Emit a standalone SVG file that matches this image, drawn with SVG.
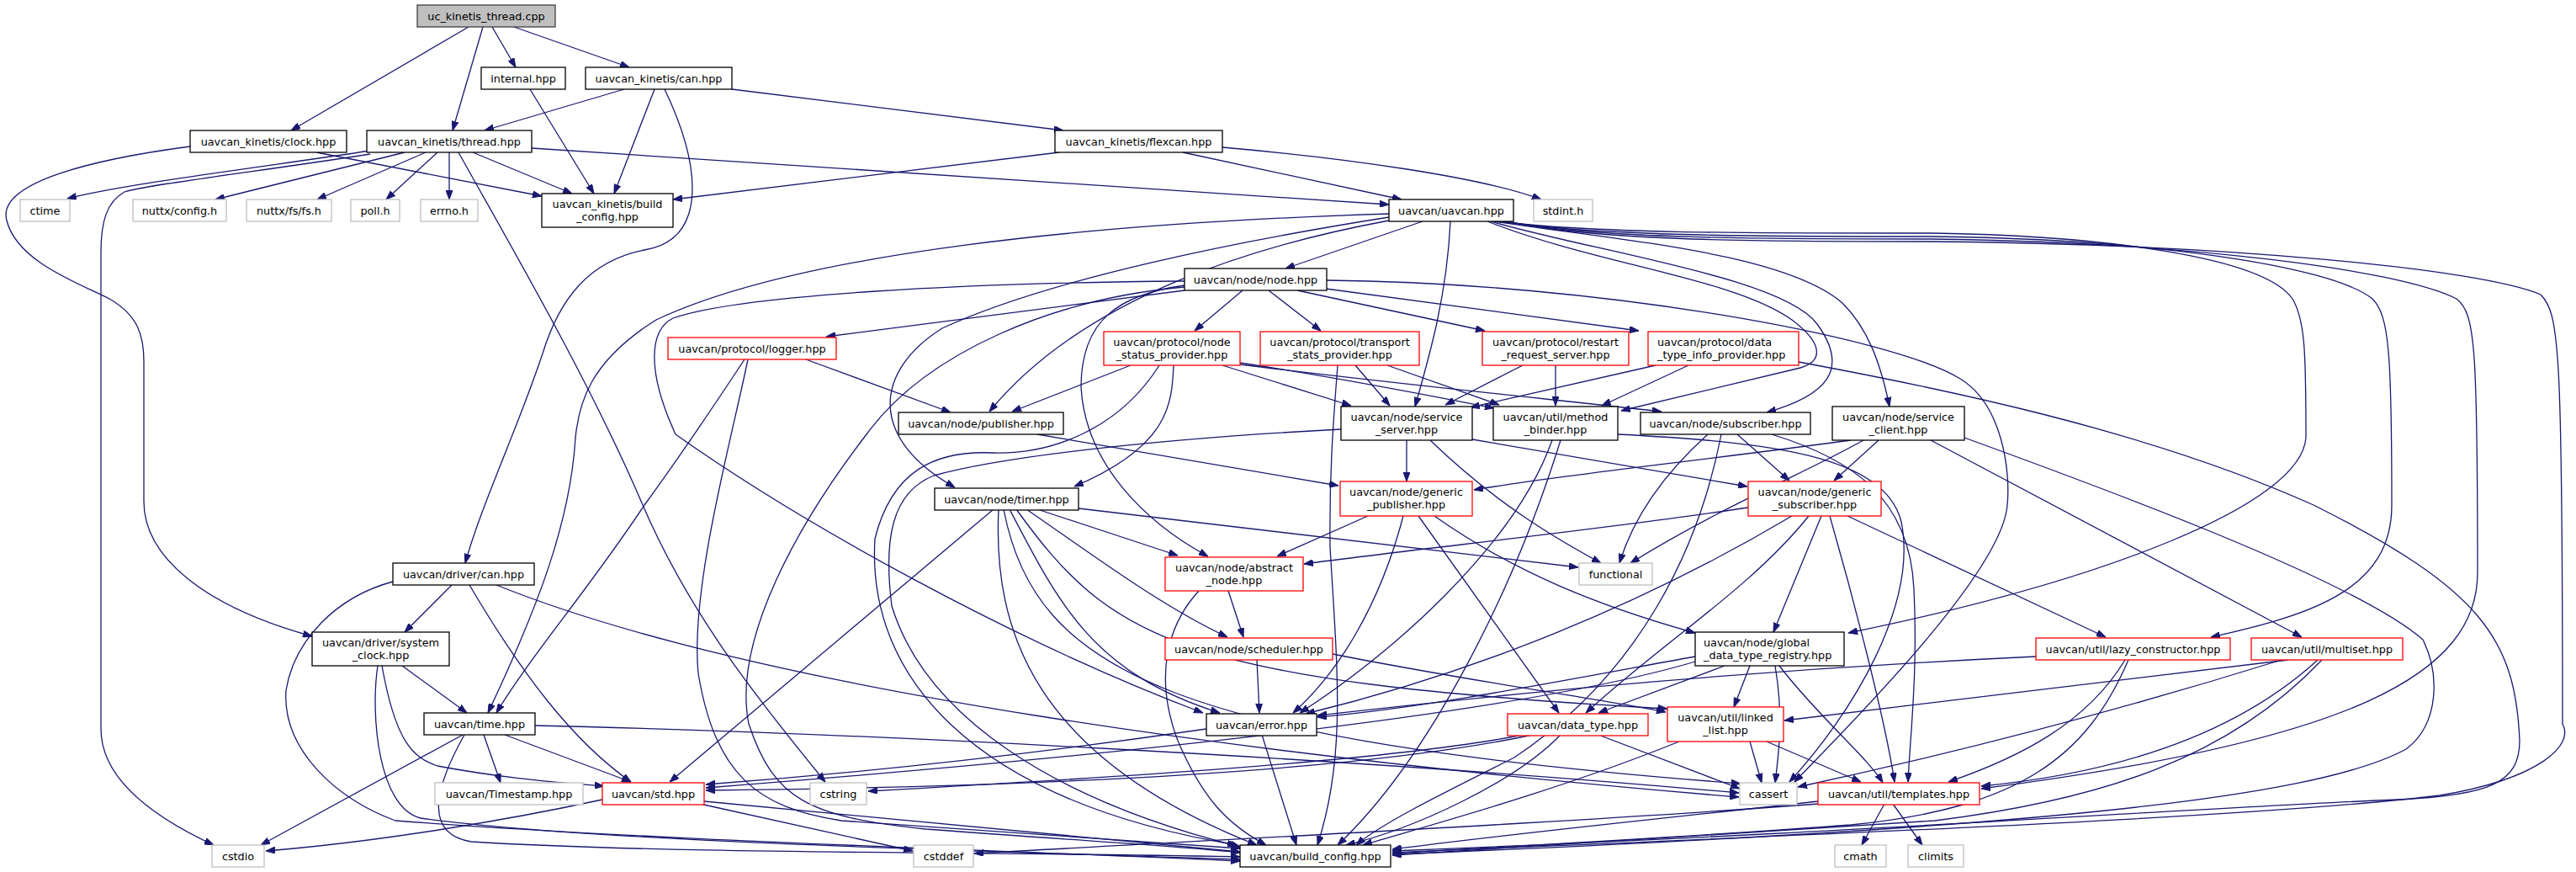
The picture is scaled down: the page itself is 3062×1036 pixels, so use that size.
<svg xmlns="http://www.w3.org/2000/svg" width="3062" height="1036" viewBox="0 0 3062 1036">
<defs>
<style>
.n rect{fill:#fff;stroke:#000;stroke-width:1.3}
.n.root rect{fill:#bfbfbf;stroke:#404040}
.n.r rect{stroke:#ff0000}
.n.g rect{stroke:#bfbfbf}
text{font-family:"DejaVu Sans","Liberation Sans",sans-serif;font-size:12.8px;fill:#000;text-anchor:middle}
text.l{text-anchor:start}
.e path{fill:none;stroke:#191970;stroke-width:1.3;marker-end:url(#a)}
</style>
<marker id="a" markerWidth="11" markerHeight="8" refX="11" refY="4" orient="auto" markerUnits="userSpaceOnUse"><path d="M0,0 L11,4 L0,8 z" fill="#191970" stroke="#191970" stroke-width="1"/></marker>
</defs>
<rect width="3062" height="1036" fill="#fff"/>
<g id="edges" class="e">
<path d="M557,32 L346,155"/>
<path d="M574,32 L538,155"/>
<path d="M585,32 L613,80"/>
<path d="M611,32 L748,80"/>
<path d="M630,106 L706,230"/>
<path d="M742,106 L576,155"/>
<path d="M778,106 L730,230"/>
<path d="M870,106 L1264,155"/>
<path d="M790,106 C835,200 840,285 766,297 C700,310 665,355 645,420 C615,510 572,600 553,669"/>
<path d="M376,181 L644,233"/>
<path d="M226,174 C120,188 -5,215 8,262 C20,310 90,335 130,355 C165,375 171,400 171,430 L171,596 C171,660 240,720 371,756"/>
<path d="M440,179 C330,196 150,218 80,236"/>
<path d="M440,183 C320,202 170,220 148,228 C126,240 120,265 120,300 L120,866 C120,920 170,965 254,1004"/>
<path d="M481,181 L256,237"/>
<path d="M506,181 L377,237"/>
<path d="M520,181 L459,237"/>
<path d="M534,181 L534,237"/>
<path d="M562,181 L680,230"/>
<path d="M545,181 C600,280 700,450 764,600 C820,730 900,830 981,929"/>
<path d="M632,176 L1651,243"/>
<path d="M1259,181 L800,237"/>
<path d="M1406,181 L1666,237"/>
<path d="M1453,175 C1600,188 1760,210 1832,237"/>
<path d="M1691,263 L1528,319"/>
<path d="M1724,263 C1720,350 1700,420 1682,483"/>
<path d="M1651,258 C1480,285 1250,330 1120,390 C1040,440 1030,520 1135,579"/>
<path d="M1651,262 C1500,290 1290,350 1176,489"/>
<path d="M1651,254 C1300,265 950,300 780,380 C700,430 688,480 684,520 C678,620 640,720 580,847"/>
<path d="M1768,263 C1900,315 2060,330 2130,380 C2170,410 2165,430 2140,437 L1927,488"/>
<path d="M1772,263 C1900,300 2120,330 2160,385 C2200,440 2170,470 2100,490"/>
<path d="M1776,263 C1920,285 2120,300 2190,360 C2220,390 2235,430 2246,483"/>
<path d="M1780,263 C1900,278 2100,277 2296,277 C2500,280 2690,305 2725,355 C2740,380 2741,420 2741,520 C2735,600 2500,690 2197,752"/>
<path d="M1784,263 C1900,281 2100,281 2296,281 C2550,284 2770,315 2820,355 C2840,375 2843,420 2843,600 C2843,700 2750,730 2628,757"/>
<path d="M1788,263 C1900,284 2100,284 2296,284 C2600,288 2850,320 2920,355 C2942,372 2945,410 2945,680 C2945,800 2800,880 2355,937"/>
<path d="M1792,263 C1900,287 2100,287 2296,287 C2650,290 2950,320 3020,350 C3042,372 3046,410 3046,860 C3060,885 3020,925 2900,945 C2700,970 2200,990 1655,1013"/>
<path d="M1408,345 L982,400"/>
<path d="M1477,345 L1420,393"/>
<path d="M1508,345 L1570,393"/>
<path d="M1542,345 L1765,393"/>
<path d="M1576,343 L1948,393"/>
<path d="M1408,334 C1150,336 880,350 800,378 C772,392 768,440 803,516 C950,620 1200,760 1430,847"/>
<path d="M1408,339 C1330,350 1285,380 1285,460 C1290,550 1360,620 1436,661"/>
<path d="M1408,341 C1250,355 1100,420 1030,516 C950,620 870,760 890,860 C920,950 960,970 1100,985 C1300,1000 1400,1005 1474,1013"/>
<path d="M1577,333 C1900,336 2250,400 2330,450 C2380,480 2390,560 2386,600 C2380,680 2200,860 2133,929"/>
<path d="M958,427 L1130,490"/>
<path d="M885,427 C850,480 810,540 766,600 C700,700 630,780 590,847"/>
<path d="M889,427 C870,520 820,700 830,800 C850,920 900,960 1000,975 C1200,990 1380,1000 1474,1008"/>
<path d="M1344,434 L1203,489"/>
<path d="M1395,434 C1393,480 1390,530 1277,578"/>
<path d="M1453,434 L1606,482"/>
<path d="M1474,431 C1600,450 1700,470 1776,485"/>
<path d="M1474,433 C1650,455 1850,475 1975,489"/>
<path d="M1378,434 C1330,510 1250,540 1180,538 C1110,535 1060,560 1040,640 C1030,800 1150,950 1470,1004"/>
<path d="M1611,434 L1652,482"/>
<path d="M1649,434 L1782,481"/>
<path d="M1590,434 C1585,500 1580,560 1581,650 C1590,800 1600,900 1566,1004"/>
<path d="M1810,434 L1718,481"/>
<path d="M1849,434 L1849,482"/>
<path d="M1968,434 L1748,484"/>
<path d="M2007,434 L1904,482"/>
<path d="M2138,430 C2300,460 2550,510 2750,600 C2950,700 2990,760 2995,880 C2995,930 2960,945 2850,950 C2600,960 2200,990 1655,1011"/>
<path d="M1233,516 L1591,577"/>
<path d="M1672,523 L1672,572"/>
<path d="M1750,522 L2077,578"/>
<path d="M1700,523 C1780,600 1850,640 1903,669"/>
<path d="M1594,510 C1400,520 1200,540 1110,565 C1060,585 1050,640 1060,720 C1100,850 1250,950 1474,1006"/>
<path d="M1845,523 C1800,650 1650,780 1545,847"/>
<path d="M1855,523 C1800,700 1700,900 1590,1004"/>
<path d="M1923,516 C2100,525 2240,540 2260,620 C2280,720 2200,850 2127,929"/>
<path d="M2030,516 C1970,570 1940,620 1925,669"/>
<path d="M2065,516 L2127,571"/>
<path d="M2046,516 C2020,650 1950,800 1800,900 C1700,950 1640,980 1612,1004"/>
<path d="M2106,516 C2200,545 2270,590 2275,700 C2280,800 2270,880 2268,929"/>
<path d="M2200,523 C2000,550 1850,565 1752,582"/>
<path d="M2233,523 L2180,571"/>
<path d="M2215,523 C2150,560 2050,600 1938,669"/>
<path d="M2295,523 L2736,757"/>
<path d="M2335,520 C2500,580 2800,690 2880,760 C2900,800 2900,860 2860,890 C2750,950 2400,985 1655,1015"/>
<path d="M1626,613 L1518,661"/>
<path d="M1668,613 C1640,720 1590,800 1537,847"/>
<path d="M1686,613 L1853,847"/>
<path d="M1705,613 C1800,680 1900,720 2015,752"/>
<path d="M2078,603 C1900,630 1700,650 1550,670"/>
<path d="M2130,613 C1950,720 1750,800 1552,848"/>
<path d="M2150,613 C2080,700 1980,760 1885,847"/>
<path d="M2165,613 L2108,751"/>
<path d="M2175,613 C2200,700 2240,850 2252,929"/>
<path d="M2196,613 L2503,757"/>
<path d="M1460,702 L1478,757"/>
<path d="M1425,702 C1390,740 1370,800 1400,880 C1430,950 1460,980 1505,1004"/>
<path d="M1494,784 L1497,847"/>
<path d="M1584,777 C1750,810 1900,830 1980,846"/>
<path d="M2015,780 C1850,810 1700,840 1566,852"/>
<path d="M2015,786 C1800,850 1300,900 839,936"/>
<path d="M2050,791 L1900,847"/>
<path d="M2080,791 L2061,840"/>
<path d="M2110,791 C2120,850 2115,890 2110,930"/>
<path d="M2115,791 C2160,850 2220,900 2238,930"/>
<path d="M2080,881 L2094,930"/>
<path d="M2100,881 L2212,929"/>
<path d="M1996,881 C1850,940 1700,980 1620,1004"/>
<path d="M1900,873 L2068,937"/>
<path d="M1855,873 C1800,930 1680,985 1600,1004"/>
<path d="M1822,873 C1600,920 1200,935 839,939"/>
<path d="M1810,873 C1650,905 1300,925 1032,940"/>
<path d="M1500,873 L1541,1004"/>
<path d="M1434,866 C1200,900 1000,920 839,932"/>
<path d="M2161,952 C2000,970 1800,990 1655,1009"/>
<path d="M2162,955 C1900,975 1500,995 1158,1014"/>
<path d="M2240,955 L2213,1004"/>
<path d="M2250,955 L2285,1004"/>
<path d="M716,950 C600,975 450,1000 316,1011"/>
<path d="M832,955 L1085,1011"/>
<path d="M837,952 C1100,975 1300,995 1474,1012"/>
<path d="M550,873 L310,1004"/>
<path d="M575,873 L595,930"/>
<path d="M600,873 L750,929"/>
<path d="M552,873 C520,930 500,990 560,1000 C800,1015 1200,1012 1474,1018"/>
<path d="M636,862 C1000,870 1600,900 2067,942"/>
<path d="M478,791 L555,847"/>
<path d="M454,791 C470,880 490,900 520,910 C600,925 660,929 718,934"/>
<path d="M449,791 C440,850 450,960 500,972 C700,1000 1200,1012 1474,1021"/>
<path d="M537,695 L481,751"/>
<path d="M558,695 C620,800 680,880 750,929"/>
<path d="M590,695 C900,820 1500,900 2067,947"/>
<path d="M467,691 C400,709 350,760 340,820 C335,890 400,950 470,975 C800,1000 1200,1010 1474,1023"/>
<path d="M1181,605 L796,929"/>
<path d="M1282,604 L1876,674"/>
<path d="M1233,605 L1400,660"/>
<path d="M1220,605 C1300,660 1380,720 1459,757"/>
<path d="M1200,605 C1260,720 1300,800 1450,847"/>
<path d="M1187,605 C1180,750 1230,900 1494,1004"/>
<path d="M1193,605 C1230,800 1400,880 2069,931"/>
<path d="M1208,605 C1320,760 1400,810 1982,842"/>
<path d="M2420,780 C2000,800 1700,835 1566,850"/>
<path d="M2526,784 C2480,860 2400,900 2316,929"/>
<path d="M2530,784 C2480,900 2400,960 2200,980 C2000,995 1800,1005 1655,1014"/>
<path d="M2720,784 C2500,810 2300,835 2121,856"/>
<path d="M2712,784 C2500,850 2300,900 2137,935"/>
<path d="M2755,784 C2650,880 2500,920 2355,934"/>
<path d="M2760,784 C2650,900 2500,950 2300,975 C2000,995 1800,1008 1655,1016"/>
</g>
<g id="n_cpp" class="n root"><rect x="496" y="6" width="164" height="26"/><text x="578" y="23.5">uc_kinetis_thread.cpp</text></g>
<g id="n_internal" class="n"><rect x="572" y="80" width="100" height="26"/><text x="622" y="97.5">internal.hpp</text></g>
<g id="n_kcan" class="n"><rect x="696" y="80" width="174" height="26"/><text x="783" y="97.5">uavcan_kinetis/can.hpp</text></g>
<g id="n_kclock" class="n"><rect x="226" y="155" width="186" height="26"/><text x="319" y="172.5">uavcan_kinetis/clock.hpp</text></g>
<g id="n_kthread" class="n"><rect x="436" y="155" width="196" height="26"/><text x="534" y="172.5">uavcan_kinetis/thread.hpp</text></g>
<g id="n_ctime" class="n g"><rect x="24" y="237" width="59" height="26"/><text x="53.5" y="254.5">ctime</text></g>
<g id="n_nuttxcfg" class="n g"><rect x="158" y="237" width="111" height="26"/><text x="213.5" y="254.5">nuttx/config.h</text></g>
<g id="n_fsfs" class="n g"><rect x="293" y="237" width="101" height="26"/><text x="343.5" y="254.5">nuttx/fs/fs.h</text></g>
<g id="n_poll" class="n g"><rect x="417" y="237" width="58" height="26"/><text x="446" y="254.5">poll.h</text></g>
<g id="n_errno" class="n g"><rect x="500" y="237" width="68" height="26"/><text x="534" y="254.5">errno.h</text></g>
<g id="n_kbuild" class="n"><rect x="644" y="230" width="156" height="40"/><text x="722" y="246.5">uavcan_kinetis/build</text><text x="722" y="261.5">_config.hpp</text></g>
<g id="n_flexcan" class="n"><rect x="1254" y="155" width="199" height="26"/><text x="1353.5" y="172.5">uavcan_kinetis/flexcan.hpp</text></g>
<g id="n_uavcan" class="n"><rect x="1651" y="237" width="148" height="26"/><text x="1725" y="254.5">uavcan/uavcan.hpp</text></g>
<g id="n_stdint" class="n g"><rect x="1823" y="237" width="70" height="26"/><text x="1858" y="254.5">stdint.h</text></g>
<g id="n_node" class="n"><rect x="1408" y="319" width="169" height="26"/><text x="1492.5" y="336.5">uavcan/node/node.hpp</text></g>
<g id="n_logger" class="n r"><rect x="794" y="401" width="200" height="26"/><text x="894" y="418.5">uavcan/protocol/logger.hpp</text></g>
<g id="n_nsp" class="n r"><rect x="1312" y="394" width="162" height="40"/><text x="1393" y="410.5">uavcan/protocol/node</text><text x="1393" y="425.5">_status_provider.hpp</text></g>
<g id="n_tsp" class="n r"><rect x="1498" y="394" width="189" height="40"/><text x="1592.5" y="410.5">uavcan/protocol/transport</text><text x="1592.5" y="425.5">_stats_provider.hpp</text></g>
<g id="n_rrs" class="n r"><rect x="1762" y="394" width="174" height="40"/><text x="1849" y="410.5">uavcan/protocol/restart</text><text x="1849" y="425.5">_request_server.hpp</text></g>
<g id="n_dtip" class="n r"><rect x="1959" y="394" width="179" height="40"/><text class="l" x="1970" y="410.5">uavcan/protocol/data</text><text class="l" x="1970" y="425.5">_type_info_provider.hpp</text></g>
<g id="n_publisher" class="n"><rect x="1068" y="490" width="196" height="26"/><text x="1166" y="507.5">uavcan/node/publisher.hpp</text></g>
<g id="n_sserver" class="n"><rect x="1594" y="483" width="156" height="40"/><text x="1672" y="499.5">uavcan/node/service</text><text x="1672" y="514.5">_server.hpp</text></g>
<g id="n_mbinder" class="n"><rect x="1775" y="483" width="148" height="40"/><text x="1849" y="499.5">uavcan/util/method</text><text x="1849" y="514.5">_binder.hpp</text></g>
<g id="n_subscriber" class="n"><rect x="1950" y="490" width="202" height="26"/><text x="2051" y="507.5">uavcan/node/subscriber.hpp</text></g>
<g id="n_sclient" class="n"><rect x="2178" y="483" width="157" height="40"/><text x="2256.5" y="499.5">uavcan/node/service</text><text x="2256.5" y="514.5">_client.hpp</text></g>
<g id="n_dcan" class="n"><rect x="467" y="669" width="168" height="26"/><text x="551" y="686.5">uavcan/driver/can.hpp</text></g>
<g id="n_sysclock" class="n"><rect x="371" y="751" width="163" height="40"/><text x="452.5" y="767.5">uavcan/driver/system</text><text x="452.5" y="782.5">_clock.hpp</text></g>
<g id="n_time" class="n"><rect x="504" y="847" width="132" height="26"/><text x="570" y="864.5">uavcan/time.hpp</text></g>
<g id="n_timestamp" class="n g"><rect x="517" y="930" width="176" height="26"/><text x="605" y="947.5">uavcan/Timestamp.hpp</text></g>
<g id="n_std" class="n r"><rect x="716" y="930" width="121" height="26"/><text x="776.5" y="947.5">uavcan/std.hpp</text></g>
<g id="n_cstdio" class="n g"><rect x="252" y="1004" width="62" height="26"/><text x="283" y="1021.5">cstdio</text></g>
<g id="n_timer" class="n"><rect x="1111" y="580" width="171" height="26"/><text x="1196.5" y="597.5">uavcan/node/timer.hpp</text></g>
<g id="n_abstract" class="n r"><rect x="1385" y="662" width="164" height="40"/><text x="1467" y="678.5">uavcan/node/abstract</text><text x="1467" y="693.5">_node.hpp</text></g>
<g id="n_scheduler" class="n r"><rect x="1385" y="758" width="199" height="26"/><text x="1484.5" y="775.5">uavcan/node/scheduler.hpp</text></g>
<g id="n_error" class="n"><rect x="1434" y="848" width="131" height="26"/><text x="1499.5" y="865.5">uavcan/error.hpp</text></g>
<g id="n_cstring" class="n g"><rect x="963" y="930" width="67" height="26"/><text x="996.5" y="947.5">cstring</text></g>
<g id="n_cstddef" class="n g"><rect x="1086" y="1004" width="71" height="26"/><text x="1121.5" y="1021.5">cstddef</text></g>
<g id="n_build" class="n"><rect x="1474" y="1004" width="179" height="26"/><text x="1563.5" y="1021.5">uavcan/build_config.hpp</text></g>
<g id="n_gpub" class="n r"><rect x="1593" y="572" width="157" height="41"/><text x="1671.5" y="588.5">uavcan/node/generic</text><text x="1671.5" y="603.5">_publisher.hpp</text></g>
<g id="n_gsub" class="n r"><rect x="2078" y="572" width="158" height="41"/><text x="2157" y="588.5">uavcan/node/generic</text><text x="2157" y="603.5">_subscriber.hpp</text></g>
<g id="n_functional" class="n g"><rect x="1877" y="669" width="87" height="26"/><text x="1920.5" y="686.5">functional</text></g>
<g id="n_gdtr" class="n"><rect x="2015" y="751" width="177" height="40"/><text class="l" x="2025" y="767.5">uavcan/node/global</text><text class="l" x="2025" y="782.5">_data_type_registry.hpp</text></g>
<g id="n_datatype" class="n r"><rect x="1792" y="848" width="167" height="26"/><text x="1875.5" y="865.5">uavcan/data_type.hpp</text></g>
<g id="n_llist" class="n r"><rect x="1982" y="840" width="138" height="41"/><text x="2051" y="856.5">uavcan/util/linked</text><text x="2051" y="871.5">_list.hpp</text></g>
<g id="n_cassert" class="n g"><rect x="2068" y="930" width="68" height="26"/><text x="2102" y="947.5">cassert</text></g>
<g id="n_templates" class="n r"><rect x="2161" y="930" width="192" height="26"/><text x="2257" y="947.5">uavcan/util/templates.hpp</text></g>
<g id="n_cmath" class="n g"><rect x="2181" y="1004" width="61" height="26"/><text x="2211.5" y="1021.5">cmath</text></g>
<g id="n_climits" class="n g"><rect x="2268" y="1004" width="66" height="26"/><text x="2301" y="1021.5">climits</text></g>
<g id="n_lazy" class="n r"><rect x="2420" y="758" width="231" height="26"/><text x="2535.5" y="775.5">uavcan/util/lazy_constructor.hpp</text></g>
<g id="n_multiset" class="n r"><rect x="2676" y="758" width="180" height="26"/><text x="2766" y="775.5">uavcan/util/multiset.hpp</text></g>
</svg>
